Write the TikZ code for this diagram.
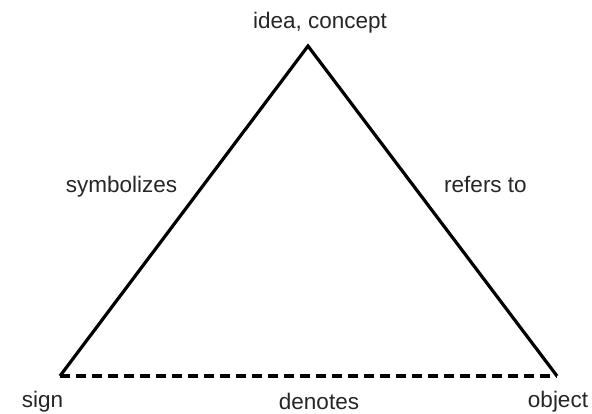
\documentclass[tikz,border=0pt]{standalone}
\usepackage{fontspec}
\setmainfont{Liberation Sans}
\begin{document}
\begin{tikzpicture}[x=1pt,y=1pt,
  lbl/.style={anchor=base,inner sep=0pt,text=black!85,font=\fontsize{22.5}{26}\selectfont},
  side/.style={line width=3.2pt,line join=miter},
  base/.style={line width=3.6pt,dash pattern=on 10pt off 6pt}]
\useasboundingbox (0,0) rectangle (592,413);
\fill[white] (0,0) rectangle (592,413);
\coordinate (apex) at (308,367);
\coordinate (sign) at (60,37);
\coordinate (obj) at (557,37);
\draw[side] (sign) -- (apex) -- (obj);
\draw[base] (sign) -- (obj);
\node[lbl] (tidea) at (320,384) {idea, concept};
\node[lbl] (tsym) at (121.5,220) {symbolizes};
\node[lbl] (tref) at (485.5,220) {refers to};
\node[lbl] (tsign) at (42.5,6) {sign};
\node[lbl] (tden) at (319,4) {denotes};
\node[lbl] (tobj) at (558,6) {object};
\end{tikzpicture}
\end{document}
